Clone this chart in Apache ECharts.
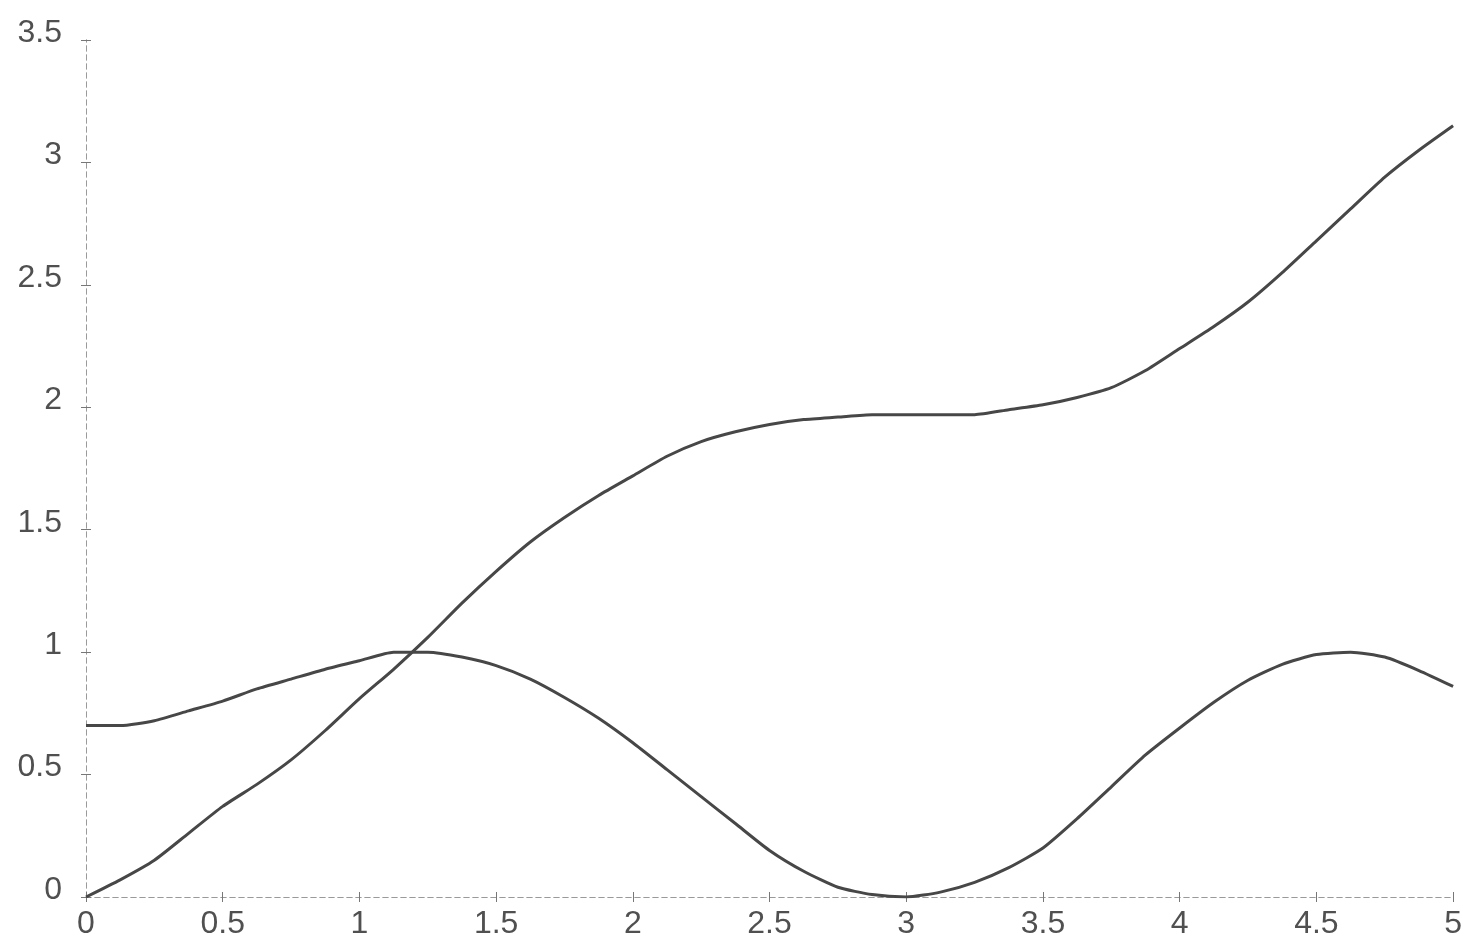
<!DOCTYPE html>
<html>
<head>
<meta charset="utf-8">
<title>Two curves</title>
<script src="https://cdn.jsdelivr.net/npm/echarts@6/dist/echarts.min.js"></script>
<style>
  html, body { margin: 0; padding: 0; background: #ffffff; }
  #chart { width: 1465px; height: 940px; }
</style>
</head>
<body>
<div id="chart"></div>
<script>
// sample positions along x (step 0.125)
const xValues = [0, 0.125, 0.25, 0.375, 0.5, 0.625, 0.75, 0.875, 1, 1.125, 1.25, 1.375, 1.5,
                 1.625, 1.75, 1.875, 2, 2.125, 2.25, 2.375, 2.5, 2.625, 2.75, 2.875, 3,
                 3.125, 3.25, 3.375, 3.5, 3.625, 3.75, 3.875, 4, 4.125, 4.25, 4.375, 4.5,
                 4.625, 4.75, 4.875, 5];
// rising curve
const risingCurve = [0, 0.07, 0.15, 0.26, 0.37, 0.46, 0.56, 0.68, 0.81, 0.93, 1.06, 1.20, 1.33,
                     1.45, 1.55, 1.64, 1.72, 1.80, 1.86, 1.90, 1.93, 1.95, 1.96, 1.97, 1.97,
                     1.97, 1.97, 1.99, 2.01, 2.04, 2.08, 2.15, 2.24, 2.33, 2.43, 2.55, 2.68,
                     2.81, 2.94, 3.05, 3.15];
// oscillating curve
const waveCurve = [0.70, 0.70, 0.72, 0.76, 0.80, 0.85, 0.89, 0.93, 0.965, 1.00, 1.00, 0.98, 0.945,
                   0.89, 0.815, 0.73, 0.63, 0.52, 0.41, 0.30, 0.19, 0.105, 0.04, 0.01, 0.00,
                   0.02, 0.06, 0.12, 0.20, 0.32, 0.45, 0.58, 0.69, 0.795, 0.885, 0.95, 0.99,
                   1.00, 0.98, 0.925, 0.86];
// axis ranges and tick steps
const xRange = [0, 5];
const yRange = [0, 3.5];
const tickStep = 0.5;

const pairs = (ys) => xValues.map((x, i) => [x, ys[i]]);

const lineColor = '#474747';
const frameColor = '#9a9a9a';
const labelColor = '#505050';
const fontFamily = '"Liberation Sans", Arial, sans-serif';

const chart = echarts.init(document.getElementById('chart'), null, { renderer: 'canvas' });

const frameLine = { show: true, lineStyle: { color: frameColor, width: 1, type: [5, 4] } };
const innerTicks = { show: true, inside: true, length: 5, lineStyle: { color: '#777', width: 1 } };

chart.setOption({
  backgroundColor: '#ffffff',
  animation: false,
  grid: { left: 86, right: 7, top: 40, bottom: 37, containLabel: false },
  xAxis: [
    {
      type: 'value', min: xRange[0], max: xRange[1], interval: tickStep,
      position: 'bottom',
      axisLine: frameLine, axisTick: innerTicks, splitLine: { show: false },
      axisLabel: { color: labelColor, fontSize: 32, fontFamily: fontFamily, margin: 11 }
    },
    {
      type: 'value', min: xRange[0], max: xRange[1], interval: tickStep,
      position: 'top',
      axisLine: frameLine, axisTick: innerTicks, splitLine: { show: false },
      axisLabel: { show: false }
    }
  ],
  yAxis: [
    {
      type: 'value', min: yRange[0], max: yRange[1], interval: tickStep,
      position: 'left',
      axisLine: frameLine, axisTick: innerTicks, splitLine: { show: false },
      axisLabel: {
        color: labelColor, fontSize: 32, fontFamily: fontFamily, margin: 24,
        verticalAlign: 'bottom', lineHeight: 14
      }
    },
    {
      type: 'value', min: yRange[0], max: yRange[1], interval: tickStep,
      position: 'right',
      axisLine: frameLine, axisTick: innerTicks, splitLine: { show: false },
      axisLabel: { show: false }
    }
  ],
  series: [
    {
      type: 'line', data: pairs(risingCurve), xAxisIndex: 0, yAxisIndex: 0,
      smooth: 0.2, showSymbol: false,
      lineStyle: { color: lineColor, width: 3 }
    },
    {
      type: 'line', data: pairs(waveCurve), xAxisIndex: 0, yAxisIndex: 0,
      smooth: 0.2, showSymbol: false,
      lineStyle: { color: lineColor, width: 3 }
    }
  ]
});
</script>
</body>
</html>
